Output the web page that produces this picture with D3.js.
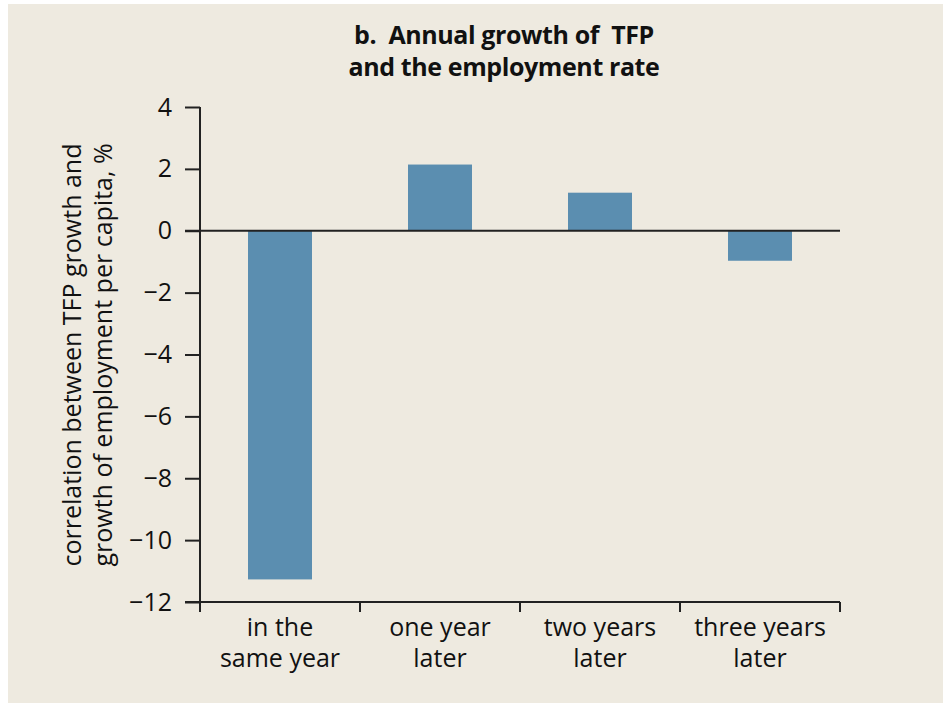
<!DOCTYPE html>
<html>
<head>
<meta charset="utf-8">
<script src="https://cdn.jsdelivr.net/npm/d3@7"></script>
<style>
  html, body { margin: 0; padding: 0; background: #ffffff; }
  svg { display: block; }
  text { font-family: "Open Sans", "Noto Sans", sans-serif; fill: #111; white-space: pre; }
</style>
</head>
<body>
<svg id="chart" width="943" height="703"></svg>
<script>
const categories = [["in the", "same year"], ["one year", "later"], ["two years", "later"], ["three years", "later"]];
const values = [-11.27, 2.14, 1.23, -0.97];
const yTicks = [4, 2, 0, -2, -4, -6, -8, -10, -12];
const titleLines = ["b.  Annual growth of  TFP", "and the employment rate"];
const yLabelLines = ["correlation between TFP growth and", "growth of employment per capita, %"];

(function () {
const svg = d3.select("#chart");
svg.append("rect").attr("x", 8).attr("y", 4).attr("width", 935).attr("height", 699).attr("fill", "#EEEAE0");

const mLeft = 200, mRight = 840, mTop = 107, mBottom = 602;
const FS = 25;
const x = d3.scaleBand().domain(d3.range(categories.length)).range([mLeft, mRight]).paddingInner(0.6).paddingOuter(0.3);
const y = d3.scaleLinear().domain([-12, 4]).range([mBottom, mTop]);

// title
svg.append("g").selectAll("text").data(titleLines).join("text")
  .attr("x", 504).attr("y", (d, i) => 44 + i * 32)
  .attr("text-anchor", "middle").attr("font-size", FS).attr("font-weight", "bold")
  .style("letter-spacing", "-0.4px")
  .text(d => d);

// bars
svg.append("g").selectAll("rect").data(values).join("rect")
  .attr("x", (d, i) => x(i))
  .attr("width", x.bandwidth())
  .attr("y", d => y(Math.max(0, d)))
  .attr("height", d => Math.abs(y(d) - y(0)))
  .attr("fill", "#5B8EB0");

// y axis
const yAxis = d3.axisLeft(y).tickValues(yTicks).tickSize(15).tickPadding(13)
  .tickFormat(d => d < 0 ? "\u2212" + Math.abs(d) : d);
const gy = svg.append("g").attr("transform", `translate(${mLeft},0)`).call(yAxis);
gy.select(".domain").attr("d", `M0,${mTop}V${mBottom}`).attr("stroke", "#222").attr("stroke-width", 2);
gy.selectAll(".tick line").attr("stroke", "#222").attr("stroke-width", 2);
gy.selectAll(".tick text").attr("font-size", FS).attr("font-family", "\"Open Sans\", sans-serif").attr("fill", "#111");

// zero line
svg.append("line").attr("x1", mLeft - 15).attr("x2", mRight).attr("y1", y(0)).attr("y2", y(0))
  .attr("stroke", "#222").attr("stroke-width", 2);

// x axis (band boundaries)
const boundaries = d3.range(categories.length + 1).map(i => mLeft + i * x.step());
svg.append("line").attr("x1", mLeft - 15).attr("x2", mRight).attr("y1", mBottom).attr("y2", mBottom)
  .attr("stroke", "#222").attr("stroke-width", 2);
svg.append("g").selectAll("line").data(boundaries).join("line")
  .attr("x1", d => d).attr("x2", d => d).attr("y1", mBottom).attr("y2", mBottom + 10)
  .attr("stroke", "#222").attr("stroke-width", 2);

const xl = svg.append("g").selectAll("text").data(categories).join("text")
  .attr("text-anchor", "middle").attr("font-size", FS);
xl.each(function(d, i) {
  const t = d3.select(this);
  d.forEach((line, j) => {
    t.append("tspan").attr("x", x(i) + x.bandwidth() / 2).attr("y", 636 + j * 31).text(line);
  });
});

// y label
const yl = svg.append("text").attr("transform", "translate(0,355) rotate(-90)")
  .attr("text-anchor", "middle").attr("font-size", FS);
yLabelLines.forEach((line, j) => {
  yl.append("tspan").attr("x", 0).attr("y", 81 + j * 31).text(line);
});
})();
</script>
</body>
</html>
